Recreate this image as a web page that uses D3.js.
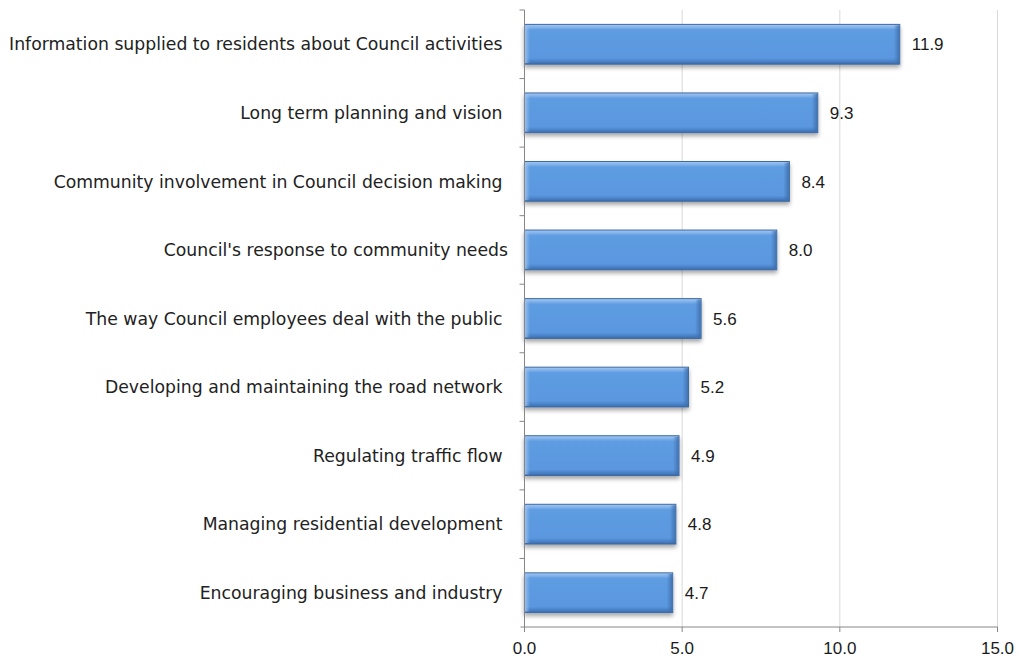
<!DOCTYPE html>
<html>
<head>
<meta charset="utf-8">
<script src="https://cdn.jsdelivr.net/npm/d3@7"></script>
<style>
  body { margin: 0; background: #fff; }
  svg text { font-family: "DejaVu Sans", "Noto Sans", sans-serif; fill: #222; white-space: pre; }
  svg text.num { font-family: "Liberation Sans", Arial, sans-serif; font-size: 17px; fill: #1a1a1a; }
</style>
</head>
<body>
<svg id="chart" width="1019" height="661"></svg>
<script>
// Service areas and their scores
const categories = [
  "Information supplied to residents about Council activities ",
  "Long term planning and vision ",
  "Community involvement in Council decision making ",
  "Council's response to community needs",
  "The way Council employees deal with the public ",
  "Developing and maintaining the road network ",
  "Regulating traffic flow ",
  "Managing residential development ",
  "Encouraging business and industry "
];
const values = [11.9, 9.3, 8.4, 8.0, 5.6, 5.2, 4.9, 4.8, 4.7];
const xTicks = [0, 5, 10, 15];

const svg = d3.select("#chart");
const plotLeft = 524.5, plotRight = 997.5, plotTop = 10, plotBottom = 627;

const x = d3.scaleLinear().domain([0, 15]).range([plotLeft, plotRight]);
const y = d3.scaleBand().domain(categories).range([plotTop, plotBottom]).paddingInner(0.42).paddingOuter(0.21);
const yEdges = d3.scaleBand().domain(categories).range([plotTop, plotBottom]).padding(0);

const defs = svg.append("defs");
const grad = defs.append("linearGradient").attr("id", "barGrad").attr("x1", 0).attr("y1", 0).attr("x2", 0).attr("y2", 1);
[[0, "#a6c8f0"], [0.08, "#7fb0ea"], [0.14, "#5e9ce2"], [0.85, "#5a97de"], [0.93, "#4a82c8"], [1, "#3b6aa8"]]
  .forEach(([o, c]) => grad.append("stop").attr("offset", o).attr("stop-color", c));
const endGrad = defs.append("linearGradient").attr("id", "endGrad").attr("x1", 0).attr("y1", 0).attr("x2", 1).attr("y2", 0);
[[0, "#3f70ad", 0.9], [1, "#3f70ad", 0]].forEach(([o, c, a]) =>
  endGrad.append("stop").attr("offset", o).attr("stop-color", c).attr("stop-opacity", a));
const startGrad = defs.append("linearGradient").attr("id", "startGrad").attr("x1", 0).attr("y1", 0).attr("x2", 1).attr("y2", 0);
[[0, "#9cc2ef", 0.9], [1, "#9cc2ef", 0]].forEach(([o, c, a]) =>
  startGrad.append("stop").attr("offset", o).attr("stop-color", c).attr("stop-opacity", a));
const shadow = defs.append("filter").attr("id", "shadow").attr("x", "-5%").attr("y", "-20%").attr("width", "110%").attr("height", "160%");
shadow.append("feGaussianBlur").attr("in", "SourceAlpha").attr("stdDeviation", 2.2);
shadow.append("feOffset").attr("dx", 0).attr("dy", 3).attr("result", "b");
shadow.append("feComponentTransfer").append("feFuncA").attr("type", "linear").attr("slope", 0.35);
const m = shadow.append("feMerge");
m.append("feMergeNode");
m.append("feMergeNode").attr("in", "SourceGraphic");

// Vertical gridlines
svg.append("g").selectAll("line").data(xTicks.filter(d => d > 0)).join("line")
  .attr("x1", d => x(d)).attr("x2", d => x(d)).attr("y1", plotTop).attr("y2", plotBottom)
  .attr("stroke", "#d9d9d9").attr("stroke-width", 1);

// Bars
const bars = svg.append("g").selectAll("g").data(values).join("g")
  .attr("transform", (d, i) => `translate(0,${y(categories[i])})`);
const bh = y.bandwidth();
bars.append("rect")
  .attr("x", x(0)).attr("y", 0).attr("width", d => x(d) - x(0)).attr("height", bh)
  .attr("fill", "url(#barGrad)").attr("stroke", "#3d6aa3").attr("stroke-width", 1)
  .attr("filter", "url(#shadow)");
bars.append("rect")
  .attr("x", d => x(d) - 6).attr("y", 1).attr("width", 5.5).attr("height", bh - 2)
  .attr("fill", "url(#endGrad)").attr("transform", d => `rotate(180 ${x(d) - 3.25} ${bh / 2})`);
bars.append("rect")
  .attr("x", x(0) + 0.5).attr("y", 1).attr("width", 5).attr("height", bh - 2)
  .attr("fill", "url(#startGrad)");

// Value labels
bars.append("text").attr("class", "num")
  .attr("x", d => x(d) + 12).attr("y", bh / 2).attr("dy", "0.36em")
  .text(d => d.toFixed(1));

// Axes
const axisColor = "#868686";
svg.append("line").attr("x1", plotLeft).attr("x2", plotLeft).attr("y1", plotTop).attr("y2", plotBottom).attr("stroke", axisColor);
svg.append("line").attr("x1", plotLeft - 4).attr("x2", plotRight).attr("y1", plotBottom).attr("y2", plotBottom).attr("stroke", axisColor);
svg.append("g").selectAll("line").data(categories).join("line")
  .attr("x1", plotLeft - 5).attr("x2", plotLeft)
  .attr("y1", d => yEdges(d)).attr("y2", d => yEdges(d))
  .attr("stroke", axisColor);
svg.append("g").selectAll("line").data(xTicks).join("line")
  .attr("x1", d => x(d)).attr("x2", d => x(d)).attr("y1", plotBottom).attr("y2", plotBottom + 5)
  .attr("stroke", axisColor);
svg.append("g").selectAll("text").data(xTicks).join("text").attr("class", "num")
  .attr("x", d => x(d)).attr("y", 648).attr("dy", "0.36em").attr("text-anchor", "middle")
  .text(d => d.toFixed(1));

// Category labels, sized so the longest one spans the left margin
const labels = svg.append("g").selectAll("text").data(categories).join("text")
  .attr("x", 508).attr("y", d => y(d) + bh / 2).attr("dy", "0.36em").attr("text-anchor", "end")
  .style("font-size", "15px")
  .text(d => d);
const probe = svg.append("text").style("font-size", "15px").text(categories[0].trim());
const fitSize = 15 * 494 / probe.node().getComputedTextLength();
probe.remove();
labels.style("font-size", fitSize + "px");
</script>
</body>
</html>
